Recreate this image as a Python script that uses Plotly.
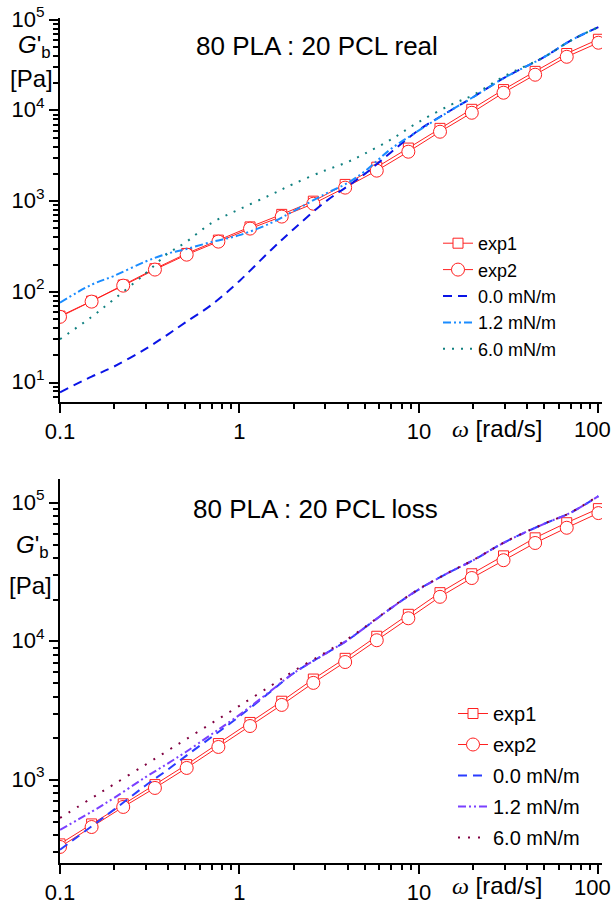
import plotly.graph_objects as go

# angular frequency of the measured points [rad/s]
w_exp = [0.1, 0.15, 0.225, 0.338, 0.508, 0.763, 1.145, 1.72, 2.58, 3.88,
         5.82, 8.73, 13.1, 19.7, 29.6, 44.4, 66.6, 100]
# frequency grid of the model curves [rad/s]
w_model = [0.1, 0.15, 0.2, 0.3, 0.4, 0.5, 0.7, 1, 1.5, 2, 3, 4, 5, 7,
           10, 15, 20, 30, 50, 70, 100]

# storage modulus (top panel) [Pa]
real_exp1 = [54, 79, 119, 180, 265, 372, 520, 715, 1000, 1530, 2370, 3850,
             6350, 10300, 17000, 27000, 42500, 61000]
real_exp2 = [53, 78, 117, 176, 257, 358, 498, 676, 937, 1410, 2170, 3510,
             5830, 9440, 15700, 24800, 39100, 55900]
real_00 = [7.8, 11.6, 15, 23.5, 34, 46, 72, 132, 290, 490, 980, 1460, 2000,
           3470, 6100, 10000, 14000, 23000, 39000, 59000, 83000]
real_12 = [76, 120, 150, 216, 265, 295, 355, 422, 575, 776, 1200, 1585, 2140,
           3780, 6030, 10000, 14000, 23000, 39000, 59000, 83000]
real_60 = [30, 53, 83, 160, 265, 350, 575, 815, 1180, 1550, 2180, 2700, 3350,
           4800, 7500, 11500, 14800, 24000, 39000, 59000, 83000]

# loss modulus (bottom panel) [Pa]
loss_exp1 = [345, 481, 672, 925, 1290, 1830, 2600, 3700, 5350, 7550, 10900,
             15700, 22500, 30800, 41500, 56000, 72000, 91000]
loss_exp2 = [328, 457, 638, 875, 1220, 1730, 2450, 3480, 5020, 7100, 10200,
             14700, 21000, 28700, 38600, 51400, 66200, 84500]
loss_00 = [313, 462, 610, 912, 1190, 1480, 2040, 2880, 4365, 5890, 8130,
           10200, 12600, 17400, 23800, 31900, 38500, 52000, 70800, 85000, 112000]
loss_12 = [436, 589, 741, 1047, 1318, 1585, 2138, 2950, 4415, 5890, 8130,
           10200, 12600, 17400, 23800, 31900, 38500, 52000, 70800, 85000, 112000]
loss_60 = [531, 738, 931, 1290, 1632, 1955, 2570, 3430, 4790, 6100, 8300,
           10400, 12700, 17500, 23900, 32000, 38600, 52100, 71000, 85200, 113000]

series_names = ["exp1", "exp2", "0.0 mN/m", "1.2 mN/m", "6.0 mN/m"]

FONT = "Liberation Sans, Arial, sans-serif"
RED = "#ff2020"
W, H = 614, 900
L, R, T, B = 60, 12, 18, 37


def px_x(p):
    # page pixel -> paper fraction
    return (p - L) / (W - L - R)


def px_y(p):
    return (H - B - p) / (H - T - B)


fig = go.Figure()


def add_panel(n, exp1, exp2, models, colors, dashes, legend):
    xa = "x" if n == 1 else "x%d" % n
    ya = "y" if n == 1 else "y%d" % n
    fig.add_trace(go.Scatter(x=w_exp, y=exp1, name=series_names[0], xaxis=xa, yaxis=ya,
                             mode="lines+markers", legend=legend, legendgroup=legend + "a",
                             line=dict(color=RED, width=1),
                             marker=dict(symbol="square", size=10, color="white",
                                         line=dict(color=RED, width=1))))
    fig.add_trace(go.Scatter(x=w_exp, y=exp2, name=series_names[1], xaxis=xa, yaxis=ya,
                             mode="lines+markers", legend=legend, legendgroup=legend + "b",
                             line=dict(color=RED, width=1),
                             marker=dict(symbol="circle", size=13, color="white",
                                         line=dict(color=RED, width=1))))
    for i, (vals, c, d) in enumerate(zip(models, colors, dashes)):
        fig.add_trace(go.Scatter(x=w_model, y=vals, name=series_names[2 + i],
                                 xaxis=xa, yaxis=ya, mode="lines", legend=legend,
                                 legendgroup=legend + str(i),
                                 line=dict(color=c, width=2, dash=d, shape="spline")))


add_panel(1, real_exp1, real_exp2, [real_00, real_12, real_60],
          ["#0a14e6", "#1a8cff", "#108080"],
          ["9px,6px", "8px,3px,2px,3px,2px,3px", "2px,7px"], "legend")
add_panel(2, loss_exp1, loss_exp2, [loss_00, loss_12, loss_60],
          ["#2a3cff", "#7a40ff", "#800040"],
          ["9px,6px", "8px,3px,2px,3px,2px,3px", "2px,8px"], "legend2")

x_minor = [m * 10 ** k for k in range(-1, 2) for m in range(2, 10)]


def x_axis(anchor):
    # the "100" label sits at the right page edge, it is added as an annotation below
    return dict(type="log", range=[-1, 2.02], domain=[0, 1], anchor=anchor,
                tickvals=[0.1, 1, 10, 100], ticktext=["0.1", "1", "10", ""],
                ticks="outside", ticklen=9, tickwidth=2, tickcolor="black",
                showline=True, linewidth=2, linecolor="black",
                showgrid=False, zeroline=False, automargin=False,
                ticklabeloverflow="allow",
                tickfont=dict(family=FONT, size=22, color="black"),
                minor=dict(tickvals=x_minor, ticks="outside", ticklen=5,
                           tickwidth=1.5, tickcolor="black", showgrid=False))


def y_axis(anchor, rng, dom, decades):
    minor = [m * 10 ** k for k in range(decades[0] - 1, decades[-1]) for m in range(2, 10)]
    return dict(type="log", range=rng, domain=dom, anchor=anchor,
                tickvals=[10 ** d for d in decades],
                ticktext=["10<sup>%d</sup>" % d for d in decades],
                ticks="outside", ticklen=9, tickwidth=2, tickcolor="black",
                showline=True, linewidth=2, linecolor="black",
                showgrid=False, zeroline=False, automargin=False,
                ticklabeloverflow="allow", ticklabelshift=-1,
                tickfont=dict(family=FONT, size=22, color="black"),
                minor=dict(tickvals=minor, ticks="outside", ticklen=5,
                           tickwidth=1.5, tickcolor="black", showgrid=False))


ann_font = dict(family=FONT, size=24, color="black")
omega = "<span style='font-family:Liberation Serif'><i>ω</i></span> [rad/s]"
annotations = [
    dict(text="80 PLA : 20 PCL real", x=px_x(317), y=px_y(46), font_size=26),
    dict(text="80 PLA : 20 PCL loss", x=px_x(315), y=px_y(509), font_size=26),
    dict(text="<i>G</i>'<sub>b</sub>", x=px_x(16), y=px_y(46), xanchor="left"),
    dict(text="[Pa]", x=px_x(31), y=px_y(78)),
    dict(text="<i>G</i>'<sub>b</sub>", x=px_x(14), y=px_y(546), xanchor="left"),
    dict(text="[Pa]", x=px_x(30), y=px_y(585)),
    dict(text=omega, x=px_x(497), y=px_y(428)),
    dict(text=omega, x=px_x(497), y=px_y(885)),
    dict(text="100", x=px_x(613), y=px_y(430), xanchor="right", font_size=22),
    dict(text="100", x=px_x(613), y=px_y(887), xanchor="right", font_size=22),
]
for a in annotations:
    size = a.pop("font_size", 24)
    a.update(xref="paper", yref="paper", showarrow=False,
             font=dict(ann_font, size=size))
    a.setdefault("xanchor", "center")
    a.setdefault("yanchor", "middle")

fig.update_layout(
    width=W, height=H,
    margin=dict(l=L, r=R, t=T, b=B, autoexpand=False),
    paper_bgcolor="white", plot_bgcolor="white",
    font=dict(family=FONT, color="black"),
    xaxis=x_axis("y"),
    yaxis=y_axis("x", [0.785, 5.02], [px_y(402), 1], [1, 2, 3, 4, 5]),
    xaxis2=x_axis("y2"),
    yaxis2=y_axis("x2", [2.40, 5.173], [0, px_y(479)], [3, 4, 5]),
    legend=dict(x=px_x(438), y=px_y(225), xanchor="left", yanchor="top",
                bgcolor="rgba(0,0,0,0)", tracegroupgap=0, itemwidth=30,
                font=dict(family=FONT, size=18, color="black")),
    legend2=dict(x=px_x(453), y=px_y(694), xanchor="left", yanchor="top",
                 bgcolor="rgba(0,0,0,0)", tracegroupgap=2, itemwidth=30,
                 font=dict(family=FONT, size=20, color="black")),
    annotations=annotations,
    showlegend=True,
)

# drop the default 8 px page margin so the figure fills the window exactly
fig.write_html("out.html", config={"displayModeBar": False},
               post_script="document.body.style.margin='0';"
                           "document.body.style.overflow='hidden';")
